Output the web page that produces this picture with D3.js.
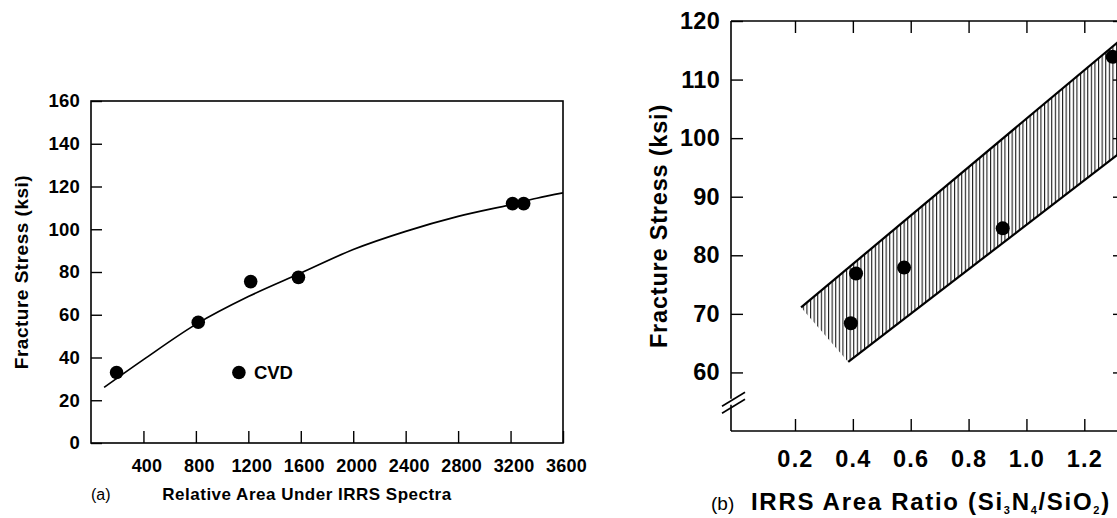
<!DOCTYPE html>
<html><head><meta charset="utf-8">
<script src="https://cdn.jsdelivr.net/npm/d3@7"></script>
<style>body{margin:0;background:#fff} text{font-family:"Liberation Sans",Arial,sans-serif;fill:#000}</style>
</head><body><svg id="c" width="1117" height="518"></svg>
<script>
// ---- Panel (a) data ----
const aTicksX = [400, 800, 1200, 1600, 2000, 2400, 2800, 3200, 3600];
const aTicksY = [0, 20, 40, 60, 80, 100, 120, 140, 160];
const aPoints = [[195, 33], [818, 56.5], [1218, 75.5], [1582, 77.5], [3215, 112], [3300, 112]];
const aCVD = [[1128, 33]];
const aCurve = [[100, 26], [400, 39], [800, 55.5], [1200, 68.5], [1600, 79.5], [2000, 90.5], [2400, 99], [2800, 106], [3200, 111.5], [3400, 114.5], [3600, 117]];
// ---- Panel (b) data ----
const bTicksX = [0.2, 0.4, 0.6, 0.8, 1.0, 1.2];
const bTicksY = [60, 70, 80, 90, 100, 110, 120];
const bPoints = [[0.393, 68.4], [0.411, 76.9], [0.577, 77.9], [0.918, 84.6], [1.298, 113.9]];
const bUpper = [[0.221, 71.1], [1.5, 124]];
const bLower = [[0.384, 61.8], [1.5, 104.2]];
const bBreak = 55;

const svg = d3.select("#c");
const defs = svg.append("defs");
const pat = defs.append("pattern").attr("id","hatch").attr("patternUnits","userSpaceOnUse")
  .attr("width",3.6).attr("height",10);
pat.append("rect").attr("x",0).attr("y",0).attr("width",1.1).attr("height",10).attr("fill","#1a1a1a");

function styleAxis(g, size, ls){
  g.select(".domain").remove();
  g.selectAll("line").attr("stroke","#000").attr("stroke-width",1.4);
  g.selectAll("text").attr("font-size",size).attr("font-weight","bold")
    .attr("font-family","Liberation Sans, Arial").attr("letter-spacing", ls||0);
}

// ===== Panel (a) =====
const xa = d3.scaleLinear([0, 3600], [91, 563]);
const ya = d3.scaleLinear([0, 160], [443, 101]);
const ga = svg.append("g");
ga.append("rect").attr("x", xa(0)).attr("y", ya(160)).attr("width", xa(3600)-xa(0)).attr("height", ya(0)-ya(160))
  .attr("fill","none").attr("stroke","#000").attr("stroke-width",1.6);
const axA = ga.append("g").attr("transform",`translate(0,${ya(0)})`)
  .call(d3.axisBottom(xa).tickValues(aTicksX).tickSize(-12).tickPadding(16).tickFormat(d3.format("d")));
const ayA = ga.append("g").attr("transform",`translate(${xa(0)},0)`)
  .call(d3.axisLeft(ya).tickValues(aTicksY).tickSize(-11).tickPadding(11));
styleAxis(axA, 18, 0.2); styleAxis(ayA, 18.5, 0.2);
axA.selectAll("text").attr("dx", 3);
ga.append("path").datum(aCurve).attr("fill","none").attr("stroke","#000").attr("stroke-width",1.7)
  .attr("d", d3.line().x(d=>xa(d[0])).y(d=>ya(d[1])).curve(d3.curveCatmullRom));
ga.selectAll("circle.p").data(aPoints.concat(aCVD)).join("circle").attr("class","p")
  .attr("cx",d=>xa(d[0])).attr("cy",d=>ya(d[1])).attr("r",6.8).attr("fill","#000");
ga.append("text").attr("x", xa(aCVD[0][0])+15).attr("y", ya(aCVD[0][1])+6.5).attr("font-size",18.5).attr("font-weight","bold").text("CVD");
ga.append("text").attr("transform",`translate(28,${(ya(0)+ya(160))/2}) rotate(-90)`).attr("text-anchor","middle")
  .attr("font-size",19).attr("font-weight","bold").attr("letter-spacing",0.5).text("Fracture Stress (ksi)");
ga.append("text").attr("x",91).attr("y",500).attr("font-size",16).text("(a)");
ga.append("text").attr("x",307).attr("y",500).attr("text-anchor","middle").attr("font-size",17).attr("font-weight","bold")
  .attr("letter-spacing",0.5).text("Relative Area Under IRRS Spectra");

// ===== Panel (b) =====
const xb = d3.scaleLinear([0.2, 1.2], [795, 1084.3]);
const yb = d3.scaleLinear([50, 120], [431, 21]);
const left = 731, right = 1125;
const gb = svg.append("g");
defs.append("clipPath").attr("id","clipb").append("rect").attr("x",left).attr("y",yb(120)).attr("width",right-left).attr("height",yb(50)-yb(120));
const band = bUpper.concat(bLower.slice().reverse());
const bandG = gb.append("g").attr("clip-path","url(#clipb)");
bandG.append("path").datum(band).attr("fill","url(#hatch)").attr("stroke","none")
  .attr("d", d3.line().x(d=>xb(d[0])).y(d=>yb(d[1])));
[bUpper, bLower].forEach(l => bandG.append("path").datum(l).attr("fill","none").attr("stroke","#000").attr("stroke-width",2.2)
  .attr("d", d3.line().x(d=>xb(d[0])).y(d=>yb(d[1]))));
// box
const bw = 1.6;
gb.append("line").attr("x1",left).attr("x2",right).attr("y1",yb(120)).attr("y2",yb(120)).attr("stroke","#000").attr("stroke-width",bw);
gb.append("line").attr("x1",left).attr("x2",right).attr("y1",yb(50)).attr("y2",yb(50)).attr("stroke","#000").attr("stroke-width",bw);
gb.append("line").attr("x1",right).attr("x2",right).attr("y1",yb(120)).attr("y2",yb(50)).attr("stroke","#000").attr("stroke-width",bw);
gb.append("line").attr("x1",left).attr("x2",left).attr("y1",yb(120)).attr("y2",yb(bBreak)-3).attr("stroke","#000").attr("stroke-width",bw);
gb.append("line").attr("x1",left).attr("x2",left).attr("y1",yb(bBreak)+3).attr("y2",yb(50)).attr("stroke","#000").attr("stroke-width",bw);
[-3.5, 3.5].forEach(o => gb.append("line").attr("x1",left-9).attr("x2",left+14).attr("y1",yb(bBreak)+o+8).attr("y2",yb(bBreak)+o-6)
  .attr("stroke","#000").attr("stroke-width",1.6));
const bx = gb.append("g").attr("transform",`translate(0,${yb(50)})`)
  .call(d3.axisBottom(xb).tickValues(bTicksX).tickSize(-12).tickPadding(19).tickFormat(d3.format(".1f")));
const bxt = gb.append("g").attr("transform",`translate(0,${yb(120)})`)
  .call(d3.axisTop(xb).tickValues(bTicksX).tickSize(-12).tickFormat(""));
const by = gb.append("g").attr("transform",`translate(${left},0)`)
  .call(d3.axisLeft(yb).tickValues(bTicksY).tickSize(-12).tickPadding(11));
const byr = gb.append("g").attr("transform",`translate(${right},0)`)
  .call(d3.axisRight(yb).tickValues(bTicksY).tickSize(-12).tickFormat(""));
styleAxis(bx, 23.5, 1.2); styleAxis(bxt, 20, 0); styleAxis(by, 23.5, 0.3); styleAxis(byr, 20, 0);
gb.append("g").attr("clip-path","url(#clipb)").selectAll("circle").data(bPoints).join("circle")
  .attr("cx",d=>xb(d[0])).attr("cy",d=>yb(d[1])).attr("r",7).attr("fill","#000");
gb.append("text").attr("transform",`translate(667,${(yb(50)+yb(120))/2}) rotate(-90)`).attr("text-anchor","middle")
  .attr("font-size",23.5).attr("font-weight","bold").attr("letter-spacing",0.8).text("Fracture Stress (ksi)");
gb.append("text").attr("x",711).attr("y",510).attr("font-size",19).text("(b)");
const t = gb.append("text").attr("x",751).attr("y",510).attr("font-size",24).attr("font-weight","bold").attr("letter-spacing",1.7);
t.append("tspan").text("IRRS Area Ratio (Si");
t.append("tspan").attr("font-size",11).attr("dy",4).text("3");
t.append("tspan").attr("dy",-4).text("N");
t.append("tspan").attr("font-size",11).attr("dy",4).text("4");
t.append("tspan").attr("dy",-4).text("/SiO");
t.append("tspan").attr("font-size",11).attr("dy",4).text("2");
t.append("tspan").attr("dy",-4).text(")");
</script></body></html>
